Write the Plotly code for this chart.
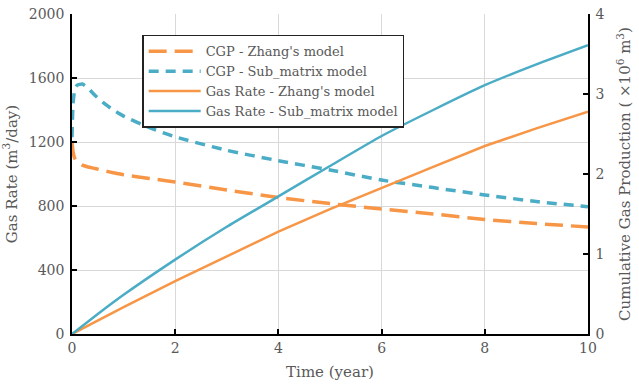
import plotly.graph_objects as go

# Time axis (years)
t_rate = [0, 0.02, 0.05, 0.1, 0.2, 0.3, 0.45, 0.6, 0.8, 1.0, 1.5, 2, 3, 4, 5, 6, 7, 8, 9, 10]
# Dashed series on the left axis (m3/day)
cgp_zhang = [1200, 1140, 1100, 1075, 1055, 1045, 1034, 1022, 1008, 995, 972, 950, 900, 853, 815, 781, 750, 716, 690, 669]
cgp_sub = [1230, 1440, 1520, 1555, 1562, 1540, 1490, 1448, 1400, 1362, 1290, 1232, 1148, 1083, 1025, 962, 915, 869, 828, 795]

t_cum = [0, 0.5, 1, 2, 3, 4, 5, 6, 7, 8, 9, 10]
# Solid series on the right axis (x10^6 m3)
rate_zhang = [0, 0.168, 0.335, 0.66, 0.975, 1.28, 1.56, 1.83, 2.09, 2.35, 2.57, 2.78]
rate_sub = [0, 0.25, 0.49, 0.93, 1.34, 1.72, 2.10, 2.475, 2.80, 3.11, 3.37, 3.61]

x_ticks = [0, 2, 4, 6, 8, 10]
y_ticks = [0, 400, 800, 1200, 1600, 2000]
y2_ticks = [0, 1, 2, 3, 4]

ORANGE = "#F79646"
BLUE = "#4BACC6"
TEXT = "#595959"
FONT = "DejaVu Serif"

fig = go.Figure()
fig.add_trace(go.Scatter(x=t_rate, y=cgp_zhang, mode="lines", name="CGP - Zhang's model",
                         line=dict(color=ORANGE, width=3.5, dash="18px,8px", shape="spline", smoothing=0.5)))
fig.add_trace(go.Scatter(x=t_rate, y=cgp_sub, mode="lines", name="CGP - Sub_matrix model",
                         line=dict(color=BLUE, width=3.5, dash="10px,7px", shape="spline", smoothing=0.5)))
fig.add_trace(go.Scatter(x=t_cum, y=rate_zhang, mode="lines", name="Gas Rate - Zhang's model",
                         yaxis="y2", line=dict(color=ORANGE, width=2.5)))
fig.add_trace(go.Scatter(x=t_cum, y=rate_sub, mode="lines", name="Gas Rate - Sub_matrix model",
                         yaxis="y2", line=dict(color=BLUE, width=2.5, shape="spline", smoothing=0.5)))

axis_common = dict(
    showline=True, linecolor="black", linewidth=1.5,
    ticks="inside", ticklen=5, tickcolor="black", tickwidth=1.5,
    tickfont=dict(family=FONT, size=14, color=TEXT),
    zeroline=False, automargin=False,
)

fig.update_layout(
    width=639, height=391,
    margin=dict(l=72, r=51, t=14, b=57),
    paper_bgcolor="white", plot_bgcolor="white",
    font=dict(family=FONT, color=TEXT, size=14),
    showlegend=True,
    legend=dict(
        x=0.136, y=0.935, xanchor="left", yanchor="top",
        bgcolor="white", bordercolor="#222222", borderwidth=1.5,
        font=dict(family=FONT, size=13, color=TEXT),
        tracegroupgap=0, itemwidth=52,
    ),
    xaxis=dict(
        range=[0, 10], tickvals=x_ticks, showgrid=True, gridcolor="#d9d9d9", gridwidth=1,
        title=dict(text="Time (year)", font=dict(family=FONT, size=15, color=TEXT), standoff=12),
        **axis_common,
    ),
    yaxis=dict(
        range=[0, 2000], tickvals=y_ticks, showgrid=True, gridcolor="#d9d9d9", gridwidth=1,
        ticklabelstandoff=3,
        title=dict(text="Gas Rate (m<sup>3</sup>/day)", font=dict(family=FONT, size=15, color=TEXT), standoff=8),
        **axis_common,
    ),
    yaxis2=dict(
        range=[0, 4], tickvals=y2_ticks, overlaying="y", side="right", showgrid=False,
        ticklabelstandoff=3,
        title=dict(text="Cumulative Gas Production ( \u00d710<sup>6</sup> m<sup>3</sup>)",
                   font=dict(family=FONT, size=15, color=TEXT), standoff=16),
        **axis_common,
    ),
)

fig.write_html("out.html")
